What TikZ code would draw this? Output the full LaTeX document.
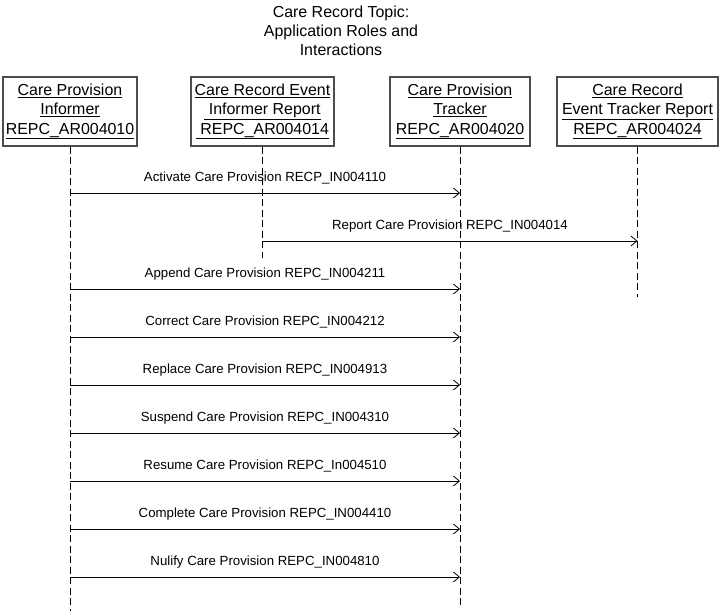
\documentclass[tikz,border=0pt]{standalone}
\usepackage{fontspec}
\setmainfont{Liberation Sans}
\usetikzlibrary{positioning}
\usetikzlibrary{arrows.meta}

\tikzset{
  role/.style={draw=black!70, line width=1.2bp, align=center, inner sep=0pt,
    minimum height=69bp, font=\fontsize{16}{19.5}\selectfont},
  lifeline/.style={dash pattern=on 7bp off 3.5bp, line width=0.8bp},
  msg/.style={-{Straight Barb[length=6bp,width=10bp]}, line width=0.8bp},
  msglabel/.style={above=5bp, font=\fontsize{13.3}{15}\selectfont}
}

\begin{document}
\begin{tikzpicture}[x=1bp,y=-1bp]
      \useasboundingbox (0,0) rectangle (720,611);
      \node[align=center, font=\fontsize{16}{19}\selectfont] (title) at (341,31)
        {Care Record Topic:\\Application Roles and\\Interactions};

      % application roles
      \node[role, minimum width=134bp] (informer) at (70,111.5)
        {\underline{Care Provision}\\\underline{Informer}\\\underline{REPC\_AR004010}};
      \node[role, minimum width=143bp] (reportinf) at (262.5,111.5)
        {\underline{Care Record Event}\\\underline{ Informer Report}\\\underline{ REPC\_AR004014}};
      \node[role, minimum width=140bp] (tracker) at (460,111.5)
        {\underline{Care Provision}\\\underline{Tracker}\\\underline{REPC\_AR004020}};
      \node[role, minimum width=161bp] (reporttrk) at (637.5,111.5)
        {\underline{Care Record}\\\underline{Event Tracker Report}\\\underline{REPC\_AR004024}};

      % lifelines
      \coordinate (informerend) at (70,611);
      \coordinate (reportinfend) at (262.5,258);
      \coordinate (trackerend) at (460,606);
      \coordinate (reporttrkend) at (637.5,297);
      \draw[lifeline] (informer.south) -- (informerend);
      \draw[lifeline] (reportinf.south) -- (reportinfend);
      \draw[lifeline] (tracker.south) -- (trackerend);
      \draw[lifeline] (reporttrk.south) -- (reporttrkend);

      % interactions
      \draw[msg] (informer.south |- 0,193) -- node[msglabel] {Activate Care Provision RECP\_IN004110} (tracker.south |- 0,193);
      \draw[msg] (reportinf.south |- 0,241) -- node[msglabel] {Report Care Provision REPC\_IN004014} (reporttrk.south |- 0,241);
      \foreach \y/\txt in {289/Append Care Provision REPC\_IN004211,
                          337/Correct Care Provision REPC\_IN004212,
                          385/Replace Care Provision REPC\_IN004913,
                          433/Suspend Care Provision REPC\_IN004310,
                          481/Resume Care Provision REPC\_In004510,
                          529/Complete Care Provision REPC\_IN004410,
                          577/Nulify Care Provision REPC\_IN004810}
        \draw[msg] (informer.south |- 0,\y) -- node[msglabel] {\txt} (tracker.south |- 0,\y);
\end{tikzpicture}
\end{document}
